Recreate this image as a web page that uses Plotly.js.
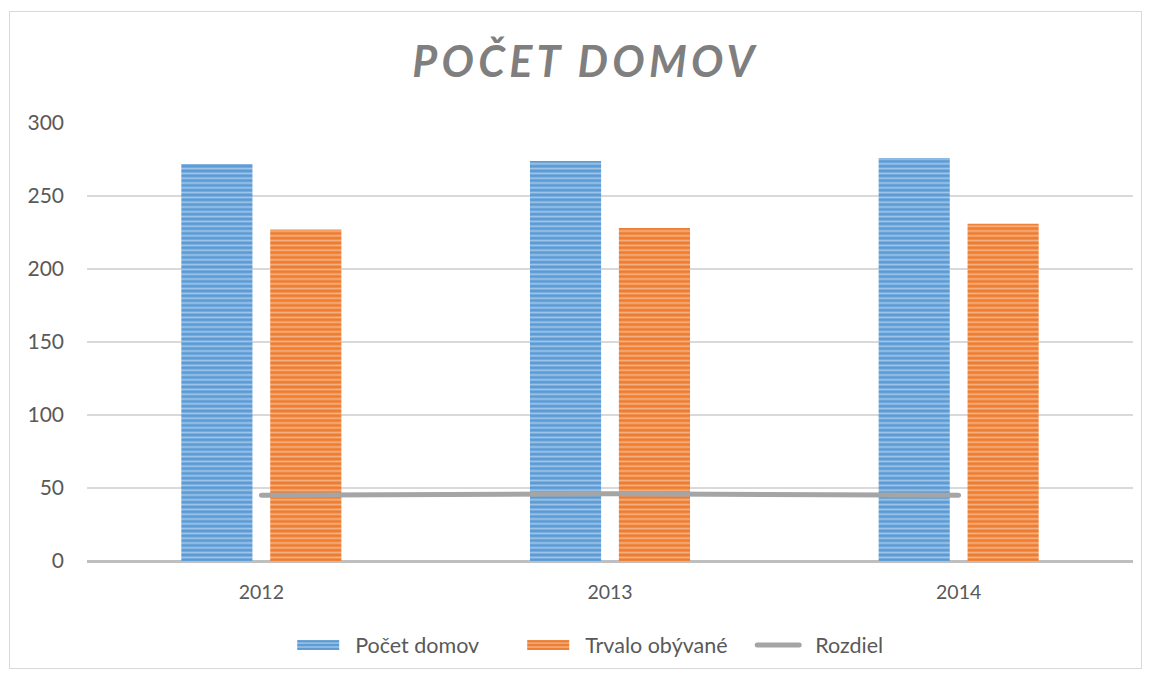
<!DOCTYPE html>
<html>
<head>
<meta charset="utf-8">
<script src="https://cdn.plot.ly/plotly-3.0.1.min.js"></script>
<style>
body{margin:0;padding:0;background:#fff;}
#wrap{position:relative;width:1149px;height:675px;}
#chart{width:1149px;height:675px;}
#frame{position:absolute;left:9px;top:11px;width:1131px;height:656px;border:1px solid #d9d9d9;pointer-events:none;}
.gtitle{letter-spacing:4.3px;}
.scatterlayer path.js-line, .legendlines path{stroke-linecap:round;}
</style>
</head>
<body>
<div id="wrap"><div id="chart"></div><div id="frame"></div></div>
<script>
const categories = ["2012", "2013", "2014"];
const pocetDomov = [272, 274, 276];
const trvaloObyvane = [227, 228, 231];
const rozdiel = [45, 46, 45];
const yTicks = [0, 50, 100, 150, 200, 250, 300];

const font = "Lato, 'Open Sans', sans-serif";

const traces = [
  {
    type: "bar", name: "Počet domov", x: categories, y: pocetDomov,
    marker: {color: "#5b9bd5", line: {width: 0},
      pattern: {shape: "-", fgcolor: "#eef4fb", bgcolor: "#5b9bd5", size: 4.8, solidity: 0.36, fillmode: "overlay"}},
    hoverinfo: "x+y"
  },
  {
    type: "bar", name: "Trvalo obývané", x: categories, y: trvaloObyvane,
    marker: {color: "#ed7d31", line: {width: 0},
      pattern: {shape: "-", fgcolor: "#fdeadc", bgcolor: "#ed7d31", size: 4.8, solidity: 0.36, fillmode: "overlay"}},
    hoverinfo: "x+y"
  },
  {
    type: "scatter", mode: "lines", name: "Rozdiel", x: categories, y: rozdiel,
    line: {color: "#a5a5a5", width: 5}
  }
];

const layout = {
  width: 1149, height: 675,
  margin: {l: 87, r: 16, t: 123, b: 114, autoexpand: false},
  paper_bgcolor: "#ffffff", plot_bgcolor: "#ffffff",
  font: {family: font, color: "#595959", size: 18},
  title: {
    text: "<b><i>POČET DOMOV</i></b>",
    font: {family: font, size: 43, color: "#7f7f7f"},
    x: 0.5, xanchor: "center", xref: "container",
    y: 1 - 62/675, yanchor: "middle", yref: "container"
  },
  barmode: "group", bargap: 0.49, bargroupgap: 0.2,
  xaxis: {
    type: "category", showgrid: false, zeroline: false, showline: false, automargin: false,
    ticks: "", tickfont: {size: 19.5, color: "#595959"}, ticklabelstandoff: 17
  },
  yaxis: {
    range: [0, 300], tickvals: yTicks, ticktext: yTicks.map(String), automargin: false,
    showgrid: true, gridcolor: "#d9d9d9", gridwidth: 1.3,
    zeroline: true, zerolinecolor: "#bfbfbf", zerolinewidth: 3,
    showline: false, ticks: "", tickfont: {size: 21, color: "#595959"},
    ticklabelstandoff: 22
  },
  showlegend: true,
  legend: {
    orientation: "h", x: 0.548, xanchor: "center", y: -0.192, yanchor: "middle",
    font: {size: 21.5, color: "#595959"}, traceorder: "normal",
    entrywidth: 185, entrywidthmode: "pixels"
  }
};

Plotly.newPlot("chart", traces, layout, {displayModeBar: false, staticPlot: true}).then(function(){
  var t = document.querySelector('.gtitle');
  if (t) { t.setAttribute('transform', 'translate(11,0)'); }
  // let wide legend swatches extend past the legend box
  document.querySelectorAll('.legend [clip-path]').forEach(function(e){ e.removeAttribute('clip-path'); });
  // widen legend symbols to look like the reference swatches
  document.querySelectorAll('.legend .legendpoints path').forEach(function(p){
    p.setAttribute('d', 'M4,5H-38V-5H4Z');
  });
  document.querySelectorAll('.legend .legendlines path').forEach(function(p){
    p.setAttribute('d', 'M-18,0h42');
  });
});
</script>
</body>
</html>
